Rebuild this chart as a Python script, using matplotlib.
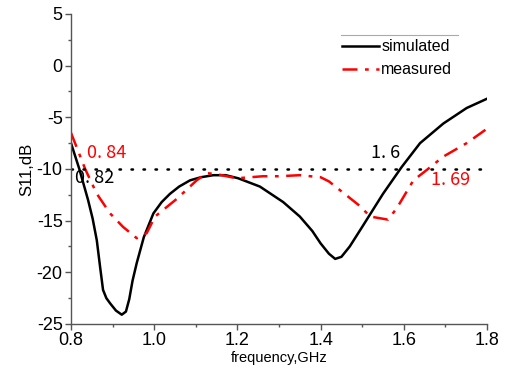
import numpy as np
import matplotlib.pyplot as plt

# S11 return loss, simulated vs measured
freq_sim = [0.80, 0.82, 0.841, 0.852, 0.862, 0.870, 0.877, 0.885, 0.894, 0.908, 0.922,
            0.932, 0.940, 0.948, 0.958, 0.975, 0.998, 1.018, 1.038, 1.060, 1.086, 1.112,
            1.142, 1.172, 1.202, 1.254, 1.31, 1.35, 1.38, 1.40, 1.42, 1.435, 1.45,
            1.47, 1.50, 1.55, 1.595, 1.639, 1.695, 1.751, 1.80]
s11_sim = [-7.5, -10.0, -13.0, -14.8, -16.9, -19.5, -21.7, -22.5, -23.0, -23.7, -24.1,
           -23.8, -22.6, -20.8, -19.1, -16.6, -14.3, -13.2, -12.4, -11.7, -11.1, -10.8,
           -10.6, -10.6, -10.9, -11.7, -13.2, -14.6, -16.0, -17.2, -18.2, -18.7, -18.5,
           -17.5, -15.6, -12.4, -9.8, -7.5, -5.6, -4.1, -3.2]

freq_meas = [0.80, 0.834, 0.862, 0.894, 0.925, 0.958, 0.982, 1.002, 1.054, 1.102, 1.126,
             1.15, 1.198, 1.262, 1.30, 1.35, 1.40, 1.42, 1.495, 1.519, 1.562, 1.583,
             1.623, 1.655, 1.695, 1.751, 1.80]
s11_meas = [-6.5, -10.0, -12.4, -14.3, -15.6, -16.7, -16.2, -14.6, -12.9, -11.1, -10.4,
            -10.5, -10.9, -10.7, -10.7, -10.6, -10.8, -11.2, -13.6, -14.6, -14.9, -13.8,
            -11.1, -10.1, -8.8, -7.5, -6.1]

threshold = -10
x_ticks = [0.8, 1.0, 1.2, 1.4, 1.6, 1.8]
y_ticks = [5, 0, -5, -10, -15, -20, -25]

plt.rcParams['font.family'] = ['Liberation Sans', 'DejaVu Sans']
plt.rcParams['axes.unicode_minus'] = False

fig = plt.figure(figsize=(5.05, 3.76), dpi=100)
ax = fig.add_axes([0.1406, 0.1383, 0.8238, 0.8245])

ax.plot(freq_sim, s11_sim, color='black', lw=1.8, label='simulated')
ax.plot(freq_meas, s11_meas, color='red', lw=1.8, dashes=(6, 3, 1.5, 3),
        label='measured')
ax.plot([0.8, 1.8], [threshold, threshold], color='black', lw=1.8,
        linestyle=(0, (0.6, 4.2)), dash_capstyle='round')

# crossing frequencies at -10 dB
cjk = ['Noto Sans CJK SC', 'DejaVu Sans']
ax.text(0.838, -8.5, '0. 84', color='red', fontsize=13, family=cjk, va='center')
ax.text(0.81, -10.9, '0. 82', color='black', fontsize=13, family=cjk, va='center')
ax.text(1.52, -8.5, '1. 6', color='black', fontsize=13, family=cjk, va='center')
ax.text(1.666, -11.1, '1. 69', color='red', fontsize=13, family=cjk, va='center')

ax.set_xlim(0.8, 1.8)
ax.set_ylim(-25, 5)
ax.set_xticks(x_ticks)
ax.set_xticklabels([f'{t:.1f}' for t in x_ticks])
ax.set_yticks(y_ticks)
ax.set_xticks(np.arange(0.9, 1.8, 0.2), minor=True)
ax.set_yticks(np.arange(-22.5, 5, 5), minor=True)

for side in ['top', 'right']:
    ax.spines[side].set_visible(False)
for side in ['left', 'bottom']:
    ax.spines[side].set_color('#555555')
    ax.spines[side].set_linewidth(1.0)
ax.tick_params(which='major', direction='out', length=4, width=1, color='#555555',
               labelsize=13, pad=2)
ax.tick_params(which='minor', direction='out', length=2.5, width=1, color='#555555')

ax.set_xlabel('frequency,GHz', fontsize=10.5, labelpad=1)
ax.set_ylabel('S11,dB', fontsize=12, labelpad=2)

ax.legend(loc='upper left', bbox_to_anchor=(0.652, 0.918), fontsize=11.5,
          frameon=False, handlelength=2.3, handletextpad=0.15,
          labelspacing=0.5, borderaxespad=0, borderpad=0)
# thin rule above the legend
ax.plot([0.649, 0.930], [0.932, 0.932], transform=ax.transAxes, color='#aaaaaa', lw=0.8)

fig.savefig('out.png', dpi=100)
